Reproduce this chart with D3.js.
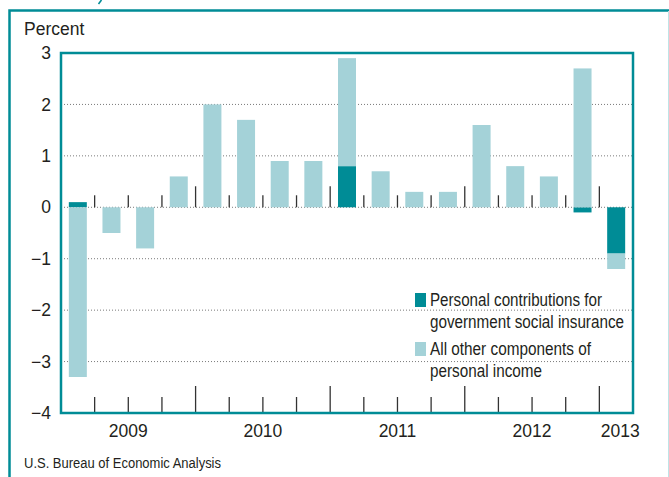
<!DOCTYPE html>
<html>
<head>
<meta charset="utf-8">
<script src="https://cdn.jsdelivr.net/npm/d3@7"></script>
<style>
  body { margin: 0; background: #fff; }
  text { font-family: "Liberation Sans", Arial, Helvetica, sans-serif; fill: #231f20; }
</style>
</head>
<body>
<script>
const width = 669;
const height = 477;

// data
const quarters = [
  '2009Q1', '2009Q2', '2009Q3', '2009Q4',
  '2010Q1', '2010Q2', '2010Q3', '2010Q4',
  '2011Q1', '2011Q2', '2011Q3', '2011Q4',
  '2012Q1', '2012Q2', '2012Q3', '2012Q4',
  '2013Q1'
];
const contributions = [0.1, 0, 0, 0, 0, 0, 0, 0, 0.8, 0, 0, 0, 0, 0, 0, -0.1, -0.9];
const otherComponents = [-3.3, -0.5, -0.8, 0.6, 2.0, 1.7, 0.9, 0.9, 2.1, 0.7, 0.3, 0.3, 1.6, 0.8, 0.6, 2.7, -0.3];
const years = ['2009', '2010', '2011', '2012', '2013'];
const yTicks = [3, 2, 1, 0, -1, -2, -3, -4];
const legendLabels = [
  ['Personal contributions for', 'government social insurance'],
  ['All other components of', 'personal income']
];

const teal = '#008c96';
const light = '#a4d2d8';

const plot = { left: 61, right: 633, top: 53, bottom: 413 };

const table = quarters.map(function (q, i) {
  return { quarter: q, contrib: contributions[i], other: otherComponents[i] };
});

const series = d3.stack()
  .keys(['contrib', 'other'])
  .offset(d3.stackOffsetDiverging)(table);

const svg = d3.select('body')
  .append('svg')
  .attr('width', width)
  .attr('height', height);

// outer frame
svg.append('rect')
  .attr('x', 9.5)
  .attr('y', 10.5)
  .attr('width', 680)
  .attr('height', 500)
  .attr('fill', 'none')
  .attr('stroke', teal)
  .attr('stroke-width', 2.5);

svg.append('line')
  .attr('x1', 668.5).attr('x2', 668.5)
  .attr('y1', 11).attr('y2', height)
  .attr('stroke', '#bfe3e6')
  .attr('stroke-width', 1);

// bit of the title's descender peeking in at the top
svg.append('path')
  .attr('d', 'M101.5,0 L98.5,4')
  .attr('stroke', teal)
  .attr('stroke-width', 1.6)
  .attr('fill', 'none');

const xScale = d3.scaleBand()
  .domain(quarters)
  .range([plot.left, plot.right])
  .paddingInner(0.465)
  .paddingOuter(0.2325);

const yScale = d3.scaleLinear()
  .domain([-4, 3])
  .range([plot.bottom, plot.top]);

const step = xScale.step();
const y0 = yScale(0);

// dotted gridlines
svg.append('g')
  .selectAll('line')
  .data(yTicks.filter(function (d) { return d > -4 && d < 3; }))
  .enter()
  .append('line')
  .attr('x1', plot.left)
  .attr('x2', plot.right)
  .attr('y1', function (d) { return yScale(d); })
  .attr('y2', function (d) { return yScale(d); })
  .attr('stroke', '#7a7a7a')
  .attr('stroke-width', 1)
  .attr('stroke-dasharray', '1,2');

// stacked bars
svg.append('g')
  .selectAll('g')
  .data(series)
  .enter()
  .append('g')
  .attr('fill', function (d) { return d.key === 'contrib' ? teal : light; })
  .selectAll('rect')
  .data(function (d) { return d; })
  .enter()
  .append('rect')
  .attr('x', function (d) { return xScale(d.data.quarter); })
  .attr('width', xScale.bandwidth())
  .attr('y', function (d) { return yScale(Math.max(d[0], d[1])); })
  .attr('height', function (d) { return Math.abs(yScale(d[0]) - yScale(d[1])); });

// quarter separators on the zero line and along the bottom
const bounds = d3.range(1, quarters.length);

svg.append('g')
  .selectAll('line')
  .data(bounds)
  .enter()
  .append('line')
  .attr('x1', function (i) { return plot.left + i * step; })
  .attr('x2', function (i) { return plot.left + i * step; })
  .attr('y1', function (i) { return y0 - (i % 4 === 0 ? 21 : 12); })
  .attr('y2', y0)
  .attr('stroke', '#333')
  .attr('stroke-width', 1.3);

svg.append('g')
  .selectAll('line')
  .data(bounds)
  .enter()
  .append('line')
  .attr('x1', function (i) { return plot.left + i * step; })
  .attr('x2', function (i) { return plot.left + i * step; })
  .attr('y1', function (i) { return plot.bottom - (i % 4 === 0 ? 27 : 16); })
  .attr('y2', plot.bottom)
  .attr('stroke', '#333')
  .attr('stroke-width', 1.3);

// plot border
svg.append('rect')
  .attr('x', plot.left)
  .attr('y', plot.top)
  .attr('width', plot.right - plot.left)
  .attr('height', plot.bottom - plot.top)
  .attr('fill', 'none')
  .attr('stroke', teal)
  .attr('stroke-width', 2.5);

// y axis labels
const yAxis = d3.axisLeft(yScale)
  .tickValues(yTicks)
  .tickFormat(d3.format('d'))
  .tickSize(0)
  .tickPadding(10);

const yg = svg.append('g')
  .attr('transform', `translate(${plot.left},0)`)
  .call(yAxis);
yg.select('.domain').remove();
yg.selectAll('text')
  .attr('font-family', null)
  .style('font-size', '17.5px')
  .style('fill', '#231f20');

svg.append('text')
  .attr('x', 24)
  .attr('y', 35)
  .attr('font-size', 17.5)
  .text('Percent');

// year labels
svg.append('g')
  .selectAll('text')
  .data(years)
  .enter()
  .append('text')
  .attr('x', function (yr) {
    const qs = quarters.filter(function (q) { return q.slice(0, 4) === yr; });
    const a = xScale(qs[0]);
    const b = xScale(qs[qs.length - 1]) + xScale.bandwidth();
    return (a + b) / 2 + (qs.length === 1 ? 4 : 0);
  })
  .attr('y', 437)
  .attr('text-anchor', 'middle')
  .attr('font-size', 17.5)
  .text(function (d) { return d; });

// legend
const legend = svg.append('g')
  .selectAll('g')
  .data(legendLabels)
  .enter()
  .append('g')
  .attr('transform', function (d, i) { return `translate(415,${293 + i * 49})`; });

legend.append('rect')
  .attr('width', 11)
  .attr('height', 14)
  .attr('fill', function (d, i) { return i === 0 ? teal : light; });

const legendWidths = [[172, 194], [161, 112]];
legend.each(function (lines, i) {
  d3.select(this).selectAll('text')
    .data(lines)
    .enter()
    .append('text')
    .attr('x', 15)
    .attr('y', function (d, j) { return 13 + j * 22; })
    .attr('font-size', 17.5)
    .attr('textLength', function (d, j) { return legendWidths[i][j]; })
    .attr('lengthAdjust', 'spacingAndGlyphs')
    .text(function (d) { return d; });
});

// source
svg.append('text')
  .attr('x', 24)
  .attr('y', 468)
  .attr('font-size', 14)
  .attr('textLength', 197)
  .attr('lengthAdjust', 'spacingAndGlyphs')
  .text('U.S. Bureau of Economic Analysis');
</script>
</body>
</html>
